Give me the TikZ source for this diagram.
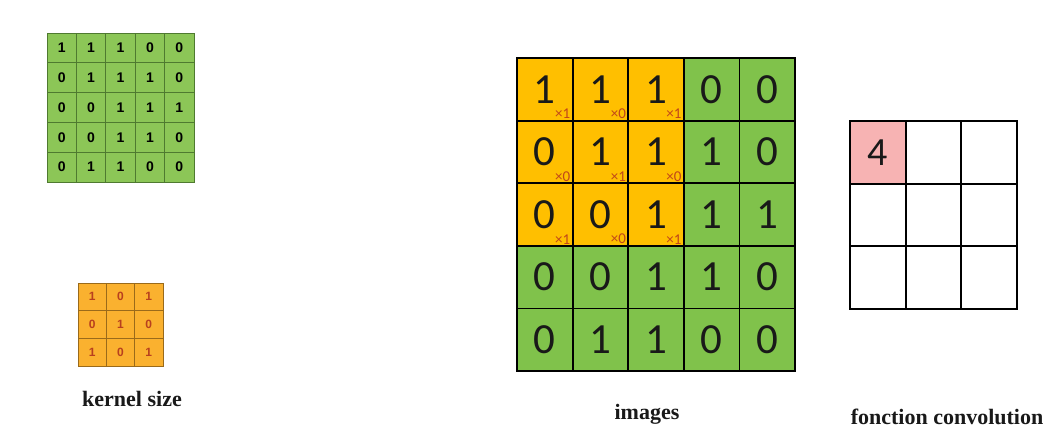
\documentclass[tikz,border=0pt]{standalone}
\usepackage{fontspec}
\setmainfont{Liberation Serif}
\newfontfamily\calfont{Carlito}
\newfontfamily\lsfont{Liberation Sans}
\definecolor{bgreen}{HTML}{80C24B}
\definecolor{borange}{HTML}{FFBF00}
\definecolor{sgreen}{HTML}{8CC657}
\definecolor{sline}{HTML}{4F7A30}
\definecolor{korange}{HTML}{FAB12F}
\definecolor{kline}{HTML}{9A6A1A}
\definecolor{kred}{HTML}{B8401E}
\definecolor{subred}{HTML}{C0461A}
\definecolor{opink}{HTML}{F7B3B3}
\tikzset{
  smallcell/.style={draw=sline, line width=0.9pt, fill=sgreen, minimum width=29.4pt, minimum height=29.8pt, inner sep=0pt, font=\lsfont\bfseries\fontsize{14}{14}\selectfont, text=black},
  kcell/.style={draw=kline, line width=0.8pt, fill=korange, minimum width=28.3pt, minimum height=27.7pt, inner sep=0pt, font=\lsfont\bfseries\fontsize{12}{12}\selectfont, text=kred},
  bigcell/.style={draw=black, line width=1.8pt, minimum width=55.6pt, minimum height=62.6pt, inner sep=0pt, font=\calfont\fontsize{43}{43}\selectfont, text=black!90},
  subnum/.style={anchor=south east, inner sep=0pt, font=\calfont\fontsize{15}{15}\selectfont, text=subred},
  outcell/.style={draw=black, line width=1.8pt, fill=white, minimum width=55.6pt, minimum height=62.6pt, inner sep=0pt, font=\calfont\fontsize{40}{40}\selectfont, text=black!90},
  caption/.style={font=\bfseries\fontsize{22}{26}\selectfont, text=black!90, inner sep=0pt}
}
\begin{document}
\begin{tikzpicture}[x=1pt,y=-1pt]
\useasboundingbox[fill=white] (0,0) rectangle (1051,429);
% small input grid
\foreach \row [count=\r] in {{1,1,1,0,0},{0,1,1,1,0},{0,0,1,1,1},{0,0,1,1,0},{0,1,1,0,0}}{
  \foreach \v [count=\c] in \row {
    \node[smallcell] (s-\r-\c) at ({47+29.4*(\c-0.5)},{33+29.8*(\r-0.5)}) {\v};
  }
}
% kernel
\foreach \row [count=\r] in {{1,0,1},{0,1,0},{1,0,1}}{
  \foreach \v [count=\c] in \row {
    \node[kcell] (k-\r-\c) at ({78+28.3*(\c-0.5)},{283+27.7*(\r-0.5)}) {\v};
  }
}
\node[caption] (kcap) at (132,399) {kernel size};
% big image grid
\foreach \row [count=\r] in {{1,1,1,0,0},{0,1,1,1,0},{0,0,1,1,1},{0,0,1,1,0},{0,1,1,0,0}}{
  \foreach \v [count=\c] in \row {
    \ifnum\r<4 \ifnum\c<4 \def\cc{borange}\else\def\cc{bgreen}\fi\else\def\cc{bgreen}\fi
    \node[bigcell, fill=\cc] (b-\r-\c) at ({517+55.6*(\c-0.5)},{58+62.6*(\r-0.5)}) {\v};
  }
}
\foreach \row [count=\r] in {{1,0,1},{0,1,0},{1,0,1}}{
  \foreach \v [count=\c] in \row {
    \node[subnum] (m-\r-\c) at ([xshift=-3pt,yshift=2.5pt]b-\r-\c.south east) {×\v};
  }
}
\node[caption] (icap) at (647,414) {images};
% output grid
\foreach \r in {1,2,3}{
  \foreach \c in {1,2,3}{
    \node[outcell] (o-\r-\c) at ({850+55.6*(\c-0.5)},{121+62.6*(\r-0.5)}) {};
  }
}
\node[outcell, fill=opink] (o-1-1) at ({850+55.6*0.5},{121+62.6*0.5}) {4};
\node[caption] (ocap) at (947,417) {fonction convolution};
\end{tikzpicture}
\end{document}
